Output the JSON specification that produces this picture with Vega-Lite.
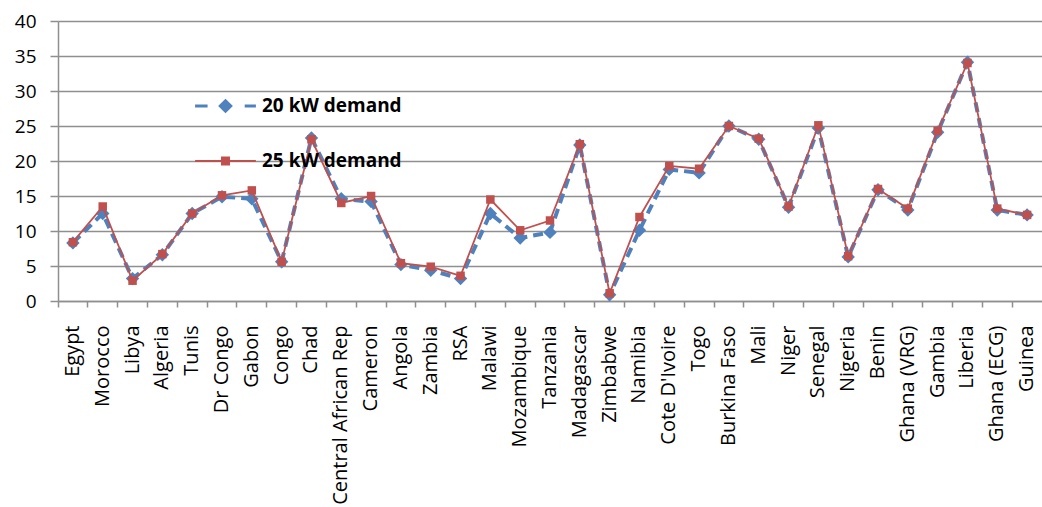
{
  "$schema": "https://vega.github.io/schema/vega-lite/v6.json",
  "width": 984,
  "height": 280,
  "autosize": {"type": "none"},
  "padding": {"left": 58, "top": 21, "right": 0, "bottom": 206},
  "background": "white",
  "config": {"view": {"stroke": null}, "font": "Open Sans"},
  "data": {"values": [
    {"country": "Egypt", "series": "20 kW demand", "value": 8.3},
    {"country": "Morocco", "series": "20 kW demand", "value": 12.5},
    {"country": "Libya", "series": "20 kW demand", "value": 3.2},
    {"country": "Algeria", "series": "20 kW demand", "value": 6.6},
    {"country": "Tunis", "series": "20 kW demand", "value": 12.5},
    {"country": "Dr Congo", "series": "20 kW demand", "value": 14.9},
    {"country": "Gabon", "series": "20 kW demand", "value": 14.6},
    {"country": "Congo", "series": "20 kW demand", "value": 5.6},
    {"country": "Chad", "series": "20 kW demand", "value": 23.3},
    {"country": "Central African Rep", "series": "20 kW demand", "value": 14.6},
    {"country": "Cameron", "series": "20 kW demand", "value": 14.2},
    {"country": "Angola", "series": "20 kW demand", "value": 5.2},
    {"country": "Zambia", "series": "20 kW demand", "value": 4.4},
    {"country": "RSA", "series": "20 kW demand", "value": 3.2},
    {"country": "Malawi", "series": "20 kW demand", "value": 12.5},
    {"country": "Mozambique", "series": "20 kW demand", "value": 9.0},
    {"country": "Tanzania", "series": "20 kW demand", "value": 9.8},
    {"country": "Madagascar", "series": "20 kW demand", "value": 22.3},
    {"country": "Zimbabwe", "series": "20 kW demand", "value": 0.9},
    {"country": "Namibia", "series": "20 kW demand", "value": 10.1},
    {"country": "Cote D'Ivoire", "series": "20 kW demand", "value": 18.8},
    {"country": "Togo", "series": "20 kW demand", "value": 18.3},
    {"country": "Burkina Faso", "series": "20 kW demand", "value": 25.0},
    {"country": "Mali", "series": "20 kW demand", "value": 23.1},
    {"country": "Niger", "series": "20 kW demand", "value": 13.4},
    {"country": "Senegal", "series": "20 kW demand", "value": 24.7},
    {"country": "Nigeria", "series": "20 kW demand", "value": 6.3},
    {"country": "Benin", "series": "20 kW demand", "value": 15.9},
    {"country": "Ghana (VRG)", "series": "20 kW demand", "value": 13.0},
    {"country": "Gambia", "series": "20 kW demand", "value": 24.1},
    {"country": "Liberia", "series": "20 kW demand", "value": 34.1},
    {"country": "Ghana (ECG)", "series": "20 kW demand", "value": 13.0},
    {"country": "Guinea", "series": "20 kW demand", "value": 12.3},
    {"country": "Egypt", "series": "25 kW demand", "value": 8.4},
    {"country": "Morocco", "series": "25 kW demand", "value": 13.5},
    {"country": "Libya", "series": "25 kW demand", "value": 2.9},
    {"country": "Algeria", "series": "25 kW demand", "value": 6.7},
    {"country": "Tunis", "series": "25 kW demand", "value": 12.5},
    {"country": "Dr Congo", "series": "25 kW demand", "value": 15.1},
    {"country": "Gabon", "series": "25 kW demand", "value": 15.8},
    {"country": "Congo", "series": "25 kW demand", "value": 5.6},
    {"country": "Chad", "series": "25 kW demand", "value": 23.1},
    {"country": "Central African Rep", "series": "25 kW demand", "value": 14.0},
    {"country": "Cameron", "series": "25 kW demand", "value": 15.0},
    {"country": "Angola", "series": "25 kW demand", "value": 5.4},
    {"country": "Zambia", "series": "25 kW demand", "value": 4.9},
    {"country": "RSA", "series": "25 kW demand", "value": 3.6},
    {"country": "Malawi", "series": "25 kW demand", "value": 14.5},
    {"country": "Mozambique", "series": "25 kW demand", "value": 10.1},
    {"country": "Tanzania", "series": "25 kW demand", "value": 11.5},
    {"country": "Madagascar", "series": "25 kW demand", "value": 22.4},
    {"country": "Zimbabwe", "series": "25 kW demand", "value": 1.1},
    {"country": "Namibia", "series": "25 kW demand", "value": 12.0},
    {"country": "Cote D'Ivoire", "series": "25 kW demand", "value": 19.3},
    {"country": "Togo", "series": "25 kW demand", "value": 18.9},
    {"country": "Burkina Faso", "series": "25 kW demand", "value": 25.0},
    {"country": "Mali", "series": "25 kW demand", "value": 23.2},
    {"country": "Niger", "series": "25 kW demand", "value": 13.5},
    {"country": "Senegal", "series": "25 kW demand", "value": 25.1},
    {"country": "Nigeria", "series": "25 kW demand", "value": 6.4},
    {"country": "Benin", "series": "25 kW demand", "value": 16.0},
    {"country": "Ghana (VRG)", "series": "25 kW demand", "value": 13.2},
    {"country": "Gambia", "series": "25 kW demand", "value": 24.3},
    {"country": "Liberia", "series": "25 kW demand", "value": 34.0},
    {"country": "Ghana (ECG)", "series": "25 kW demand", "value": 13.2},
    {"country": "Guinea", "series": "25 kW demand", "value": 12.3}
  ]},
  "encoding": {
    "x": {
      "field": "country", "type": "nominal",
      "scale": {"type": "band", "paddingInner": 0, "paddingOuter": 0,
        "domain": ["Egypt", "Morocco", "Libya", "Algeria", "Tunis", "Dr Congo", "Gabon", "Congo", "Chad", "Central African Rep", "Cameron", "Angola", "Zambia", "RSA", "Malawi", "Mozambique", "Tanzania", "Madagascar", "Zimbabwe", "Namibia", "Cote D'Ivoire", "Togo", "Burkina Faso", "Mali", "Niger", "Senegal", "Nigeria", "Benin", "Ghana (VRG)", "Gambia", "Liberia", "Ghana (ECG)", "Guinea"]},
      "axis": {"title": null, "labelAngle": -90, "bandPosition": 0, "grid": false, "labelFontSize": 20, "labelPadding": 18, "tickSize": 6, "labelColor": "black", "domainColor": "#8f8f8f", "tickColor": "#8f8f8f", "domainWidth": 1.5, "tickWidth": 1.5, "labelOverlap": false, "labelLimit": 0}
    },
    "y": {
      "field": "value", "type": "quantitative",
      "scale": {"domain": [0, 40], "nice": false},
      "axis": {"title": null, "values": [0, 5, 10, 15, 20, 25, 30, 35, 40], "grid": true, "gridColor": "#8f8f8f", "gridWidth": 1.5, "tickSize": 8, "labelPadding": 14, "labelFontSize": 19, "labelColor": "black", "domainColor": "#8f8f8f", "tickColor": "#8f8f8f", "domainWidth": 1.5, "tickWidth": 1.5}
    },
    "color": {
      "field": "series", "type": "nominal",
      "scale": {"domain": ["20 kW demand", "25 kW demand"], "range": ["#4F81BD", "#C0504D"]},
      "legend": {
        "orient": "none", "legendX": 135.5, "legendY": 53, "title": null,
        "symbolSize": 4096, "symbolStrokeWidth": 0, "labelFontSize": 19, "labelFontWeight": "bold", "labelColor": "black", "labelOffset": 4.5, "rowPadding": 13, "padding": 0,
        "encode": {"symbols": {"update": {
          "shape": {"signal": "datum.value === '20 kW demand' ? 'M-0.95,-0.05L-0.56,-0.05L-0.56,0.05L-0.95,0.05Z M0.6,-0.05L0.95,-0.05L0.95,0.05L0.6,0.05Z M0,-0.23L0.23,0L0,0.23L-0.23,0Z' : 'M-0.95,-0.03L0.95,-0.03L0.95,0.03L-0.95,0.03Z M-0.14,-0.14L0.14,-0.14L0.14,0.14L-0.14,0.14Z'"},
          "fill": {"scale": "color", "field": "value"},
          "strokeWidth": {"value": 0},
          "opacity": {"value": 1}
        }}}
      }
    }
  },
  "layer": [
    {"transform": [{"filter": "datum.series === '20 kW demand'"}], "mark": {"type": "line", "strokeWidth": 4, "strokeDash": [10, 6]}},
    {"transform": [{"filter": "datum.series === '20 kW demand'"}], "mark": {"type": "point", "shape": "diamond", "filled": true, "size": 180, "opacity": 1}},
    {"transform": [{"filter": "datum.series === '25 kW demand'"}], "mark": {"type": "line", "strokeWidth": 1.8}},
    {"transform": [{"filter": "datum.series === '25 kW demand'"}], "mark": {"type": "point", "shape": "square", "filled": true, "size": 72, "opacity": 1}}
  ]
}
